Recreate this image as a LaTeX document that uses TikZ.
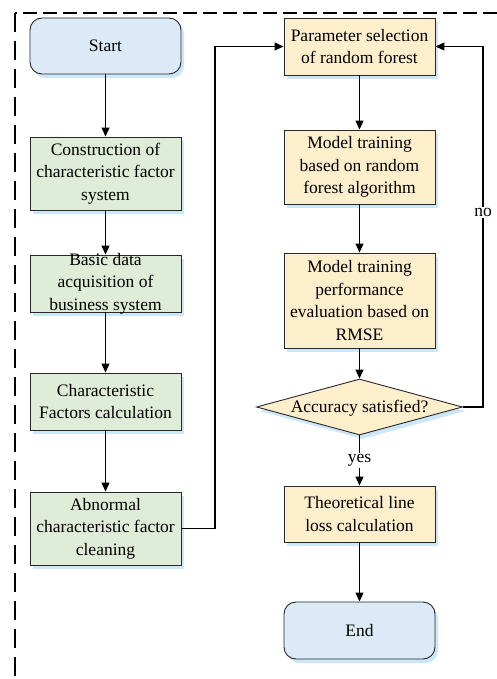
\documentclass[tikz,border=0pt]{standalone}
\usepackage{fontspec}
\setmainfont{Liberation Serif}
\usetikzlibrary{shapes.geometric,arrows.meta,shadows}
\definecolor{startblue}{RGB}{220,234,247}
\definecolor{boxgreen}{RGB}{222,236,216}
\definecolor{boxyellow}{RGB}{253,238,204}
\definecolor{shadowblue}{RGB}{170,215,245}
\definecolor{edgegray}{RGB}{40,40,40}
\begin{document}
\begin{tikzpicture}[x=1pt,y=-1pt,
  base/.style={draw=edgegray,line width=0.9pt,inner sep=0pt,minimum width=151pt,
    drop shadow={shadow xshift=3pt,shadow yshift=-4pt,fill=shadowblue,opacity=0.6}},
  term/.style={base,rectangle,rounded corners=12pt,fill=startblue},
  gbox/.style={base,rectangle,fill=boxgreen},
  ybox/.style={base,rectangle,fill=boxyellow},
  dec/.style={base,diamond,fill=boxyellow,minimum width=206pt,minimum height=56pt},
  txt/.style={align=center,font=\fontsize{17.5}{22.5}\selectfont,inner sep=0pt},
  lbl/.style={font=\fontsize{17.5}{22.5}\selectfont,inner sep=1pt,fill=white},
  arr/.style={line width=1.1pt,-{Triangle[length=9pt,width=8pt]}}]
\useasboundingbox (0,0) rectangle (497,679);
% dashed frame
\draw[line width=1.4pt,dash pattern=on 14pt off 6pt] (497,13) -- (15,13);
\draw[line width=1.4pt,dash pattern=on 19pt off 9pt] (15,13) -- (15,679);
% left column
\node[term,minimum height=56pt] (start) at (105.5,46) {};
\node[txt] at (start) {Start};
\node[gbox,minimum height=73pt] (cons) at (105.5,173.5) {};
\node[txt] at (cons) {Construction of\\characteristic factor\\system};
\node[gbox,minimum height=57pt] (basic) at (105.5,283.5) {};
\node[txt] at (basic) {Basic data\\acquisition of\\business system};
\node[gbox,minimum height=57pt] (calc) at (105.5,401.5) {};
\node[txt] at (calc) {Characteristic\\Factors calculation};
\node[gbox,minimum height=73pt] (clean) at (105.5,528.5) {};
\node[txt] at (clean) {Abnormal\\characteristic factor\\cleaning};
% right column
\node[ybox,minimum height=57pt] (param) at (359.5,46.5) {};
\node[txt] at (param) {Parameter selection\\of random forest};
\node[ybox,minimum height=74pt] (train) at (359.5,167) {};
\node[txt] at (train) {Model training\\based on random\\forest algorithm};
\node[ybox,minimum height=95pt] (eval) at (359.5,300.5) {};
\node[txt] at (eval) {Model training\\performance\\evaluation based on\\RMSE};
\node[dec] (acc) at (359.5,407) {};
\node[txt] at ([yshift=-1pt]acc.center) {Accuracy satisfied?};
\node[ybox,minimum height=56pt] (theo) at (359.5,514) {};
\node[txt] at (theo) {Theoretical line\\loss calculation};
\node[term,minimum height=57pt] (end) at (359.5,630.5) {};
\node[txt] at (end) {End};
% connectors
\draw[arr] (start) -- (cons);
\draw[arr] (cons) -- (basic);
\draw[arr] (basic) -- (calc);
\draw[arr] (calc) -- (clean);
\coordinate (c1) at (215,528.5);
\coordinate (c2) at (215,46.5);
\draw[arr] (clean.east) -- (c1) -- (c2) -- (param.west);
\draw[arr] (param) -- (train);
\draw[arr] (train) -- (eval);
\draw[arr] (eval) -- (acc.north);
\draw[arr] (acc.south) -- node[lbl,pos=0.5] {yes} (theo);
\draw[arr] (theo) -- (end);
\coordinate (n1) at (483,407);
\coordinate (n2) at (483,46.5);
\draw[arr] (acc.east) -- (n1) -- node[lbl,pos=0.54] {no} (n2) -- (param.east);
\end{tikzpicture}
\end{document}
